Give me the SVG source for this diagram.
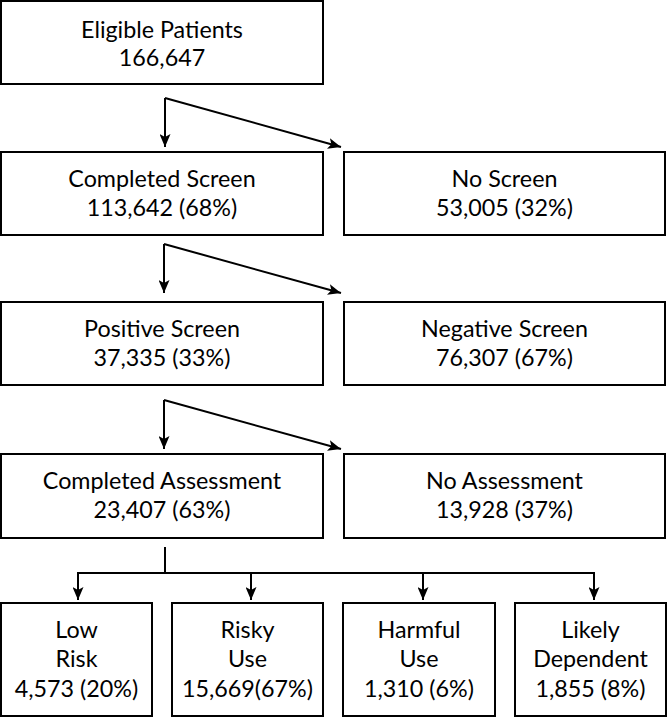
<svg xmlns="http://www.w3.org/2000/svg" width="667" height="717" viewBox="0 0 667 717">
<style>
rect{fill:#fff;stroke:#000;stroke-width:2}
text{font-family:Lato,"Noto Sans",sans-serif;font-size:23.3px;fill:#000;text-anchor:middle}
.c{fill:none;stroke:#000;stroke-width:2}
</style>
<defs>
<marker id="a" viewBox="0 0 13 11" refX="13" refY="5.5" markerWidth="13" markerHeight="11" markerUnits="userSpaceOnUse" orient="auto">
<path d="M0,0 L13,5.5 L0,11 L3,5.5 Z" fill="#000"/>
</marker>
</defs>
<rect x="0" y="0" width="667" height="717" style="fill:#fff;stroke:none"/>
<g id="eligible"><rect x="1" y="1" width="322" height="83"/><text x="162" y="38">Eligible Patients</text><text x="162" y="66">166,647</text></g>
<g id="completed-screen"><rect x="1" y="152" width="322" height="83"/><text x="162" y="187">Completed Screen</text><text x="162" y="216">113,642 (68%)</text></g>
<g id="no-screen"><rect x="344" y="152" width="321" height="83"/><text x="504.5" y="187">No Screen</text><text x="504.5" y="216">53,005 (32%)</text></g>
<g id="positive-screen"><rect x="1" y="302" width="322" height="83"/><text x="162" y="337">Positive Screen</text><text x="162" y="366">37,335 (33%)</text></g>
<g id="negative-screen"><rect x="344" y="302" width="321" height="83"/><text x="504.5" y="337">Negative Screen</text><text x="504.5" y="366">76,307 (67%)</text></g>
<g id="completed-assessment"><rect x="1" y="454" width="322" height="84"/><text x="162" y="489">Completed Assessment</text><text x="162" y="518">23,407 (63%)</text></g>
<g id="no-assessment"><rect x="344" y="454" width="321" height="84"/><text x="504.5" y="489">No Assessment</text><text x="504.5" y="518">13,928 (37%)</text></g>
<g id="low-risk"><rect x="1" y="603" width="151" height="113"/><text x="76.5" y="638">Low</text><text x="76.5" y="667">Risk</text><text x="76.5" y="697">4,573 (20%)</text></g>
<g id="risky-use"><rect x="172" y="603" width="151" height="113"/><text x="247.5" y="638">Risky</text><text x="247.5" y="667">Use</text><text x="247.5" y="697">15,669(67%)</text></g>
<g id="harmful-use"><rect x="343" y="603" width="152" height="113"/><text x="419" y="638">Harmful</text><text x="419" y="667">Use</text><text x="419" y="697">1,310 (6%)</text></g>
<g id="likely-dependent"><rect x="515" y="603" width="151" height="113"/><text x="590.5" y="638">Likely</text><text x="590.5" y="667">Dependent</text><text x="590.5" y="697">1,855 (8%)</text></g>
<g id="connectors">
<path class="c" d="M165,98 V147" marker-end="url(#a)"/>
<path class="c" d="M165,98 L341,147" marker-end="url(#a)"/>
<path class="c" d="M164,244 V293" marker-end="url(#a)"/>
<path class="c" d="M164,244 L341,293" marker-end="url(#a)"/>
<path class="c" d="M164,400 V449" marker-end="url(#a)"/>
<path class="c" d="M164,400 L341,449" marker-end="url(#a)"/>
<path class="c" d="M165,547 V573 M78,573 H594"/>
<path class="c" d="M78,572 V600" marker-end="url(#a)"/>
<path class="c" d="M251,572 V600" marker-end="url(#a)"/>
<path class="c" d="M423,572 V600" marker-end="url(#a)"/>
<path class="c" d="M594,572 V600" marker-end="url(#a)"/>
</g>
</svg>
